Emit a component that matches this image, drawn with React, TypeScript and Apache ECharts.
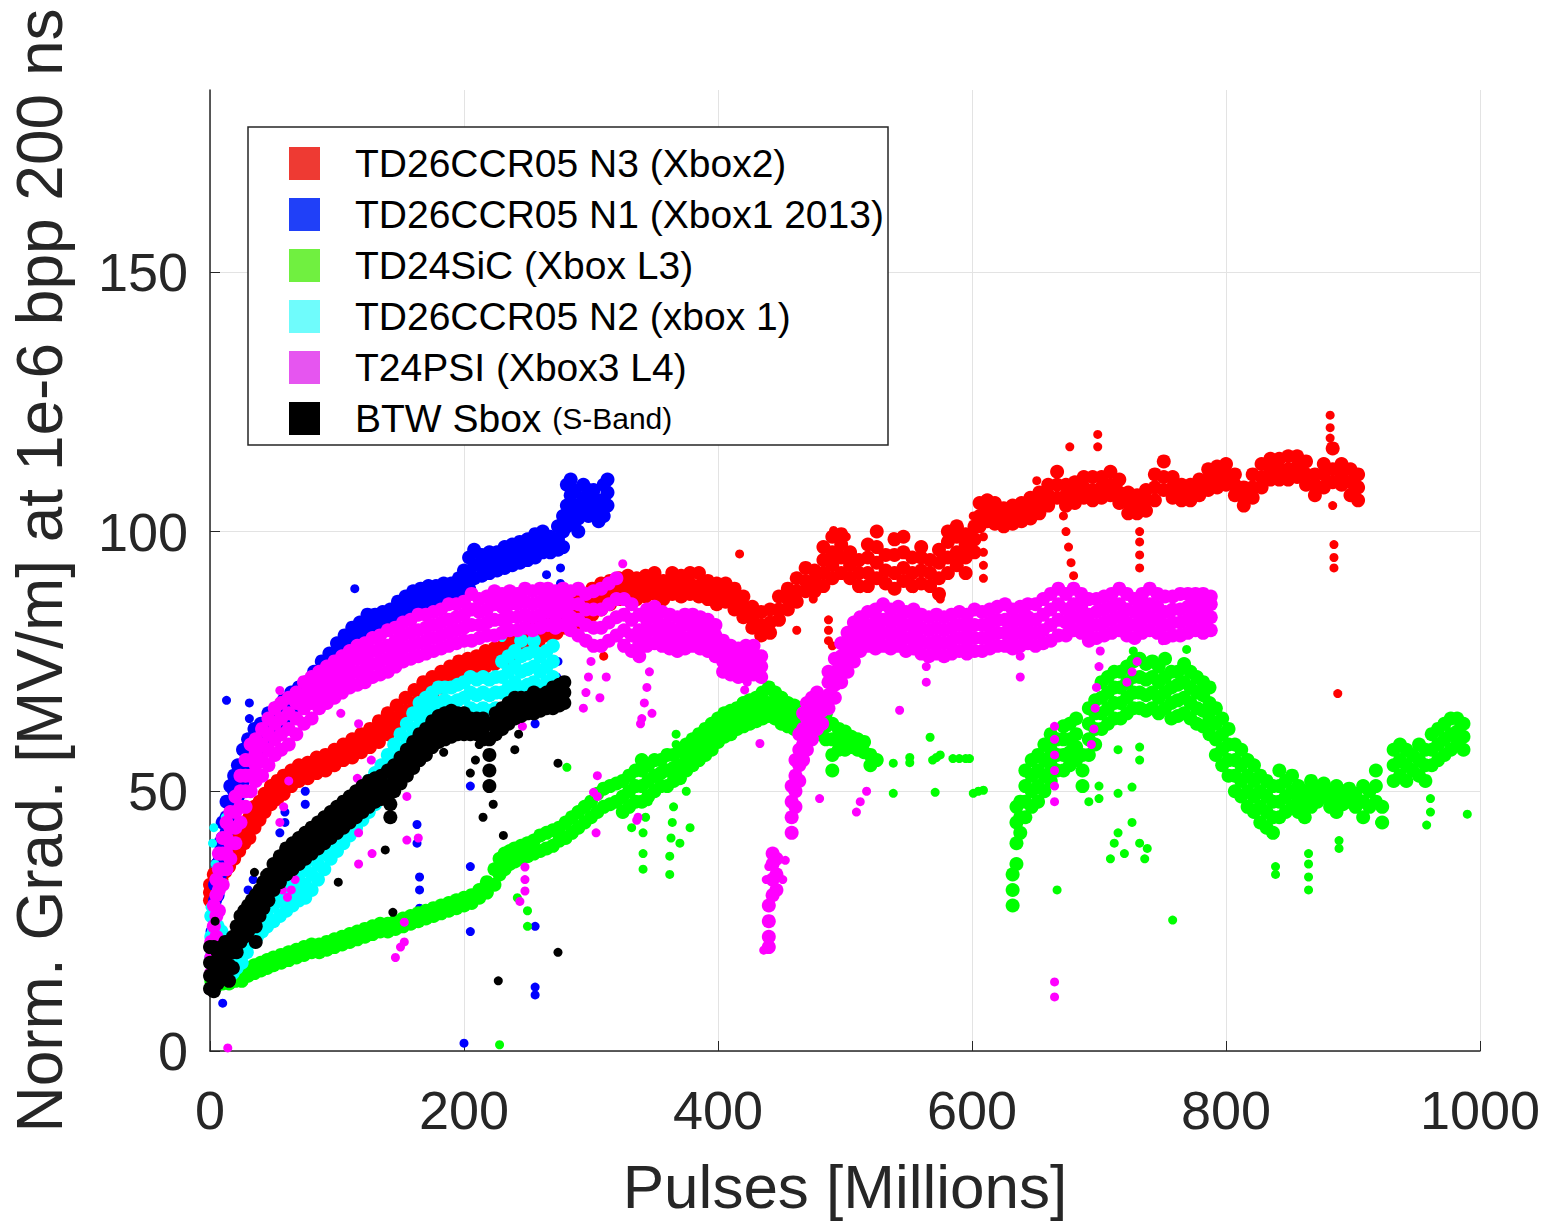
import React, { useEffect, useRef } from "react";
import * as echarts from "echarts";

const FONT = '"Liberation Sans", Arial, Helvetica, sans-serif';

const seriesNames = [
  "TD26CCR05 N3 (Xbox2)",
  "TD26CCR05 N1 (Xbox1 2013)",
  "TD24SiC (Xbox L3)",
  "TD26CCR05 N2 (xbox 1)",
  "T24PSI (Xbox3 L4)",
  "BTW Sbox (S-Band)",
];
const seriesColors = ["#FF0000", "#0000FF", "#00FF00", "#00FFFF", "#FF00FF", "#000000"];
const legendColors = ["#EE3A33", "#2040F8", "#70F040", "#6FFCFC", "#E655F0", "#000000"];

const xTicks = [0, 200, 400, 600, 800, 1000];
const yTicks = [0, 50, 100, 150];
const yMax = 185;

// each row: [pulses, gradient readings at that pulse count...]
const redBand = [
  [0, 29, 30.5, 32], [3, 30, 32, 34], [6, 32, 34, 36], [9, 33, 35, 37], [12, 34.5, 36.5, 38],
  [15, 35.5, 37.5, 39.5], [19, 37, 39, 41], [23, 38.5, 40.5, 42.5], [27, 40, 42, 44], [31, 41, 43, 45],
  [35, 43, 45, 47], [39, 44.5, 46.5, 48], [43, 46, 48, 49.5], [48, 47.5, 49.5, 51], [53, 48.5, 50.5, 52],
  [58, 49.5, 51.5, 53], [64, 51, 52.5, 54], [70, 52, 53.5, 55], [77, 52.5, 54, 55.5], [84, 53.5, 55, 56.5],
  [91, 54, 55.5, 57], [98, 55, 56.5, 58], [105, 56, 57.5, 59], [112, 56.5, 58.5, 60], [119, 57.5, 59.5, 61],
  [126, 58.5, 60.5, 62], [133, 59.5, 61.5, 63.5], [140, 61, 63, 65], [147, 62, 64, 66.5], [154, 63.5, 65.5, 68],
  [161, 65, 67, 69.5], [168, 67, 69, 71], [175, 68.5, 70.5, 72], [182, 70, 71.5, 73], [189, 71, 72.5, 74],
  [196, 72, 73.5, 75], [203, 72.5, 74, 75.5], [210, 73, 74.5, 76], [217, 74, 75.5, 77], [224, 74.5, 76, 77.5],
  [231, 75, 76.5, 78], [238, 76, 77.5, 79], [245, 77, 78.5, 80], [252, 78, 79.5, 81.5], [259, 79, 80.5, 82.5],
  [266, 80, 81.5, 83], [273, 80.5, 82.5, 84], [280, 81.5, 83.5, 85.5], [287, 82, 84, 86.5], [294, 83, 85.5, 88],
  [301, 84, 86.5, 89], [308, 85, 87.5, 90], [315, 86, 88, 90.5], [322, 87, 89, 91], [329, 87.5, 89.5, 91.5],
  [336, 87, 89, 91], [343, 87.5, 89.5, 91.5], [350, 88, 90, 92], [357, 87, 89, 90.5], [364, 88, 90, 92],
  [371, 87.5, 89.5, 91.5], [378, 88, 90, 92], [385, 87.5, 89.5, 92], [392, 87, 88.5, 90.5], [399, 86, 88, 90],
  [406, 86.5, 88, 90], [413, 85, 87, 89], [420, 83.5, 85.5, 87.5], [427, 81.5, 83.5, 85.5], [434, 80, 82, 84.5],
  [441, 80.5, 82.5, 85], [448, 83, 85, 87.5], [455, 85, 87, 89], [462, 86.5, 88.5, 91], [469, 88.5, 90.5, 93],
  [476, 88.5, 90.5, 92.5], [483, 89.5, 92, 94.5, 97], [490, 91, 93.5, 96, 99], [497, 92, 95, 97.5, 99.5],
  [504, 91, 93.5, 96], [511, 89.5, 92, 94.5], [518, 89.5, 92, 95, 97.5], [525, 91, 94, 97, 100],
  [532, 90, 92.5, 95.5], [539, 89, 92, 95.5, 98.5], [546, 90.5, 93, 96, 99], [553, 89.5, 92, 95],
  [560, 90, 92.5, 95, 97], [567, 89.5, 92, 94.5], [574, 88, 91, 94, 96.5], [581, 92, 95, 98, 100],
  [588, 93.5, 96, 99, 101], [595, 92, 95, 97.5, 99.5], [602, 96, 98.5, 101], [606, 101, 103, 105.5],
  [612, 102, 104, 106], [618, 101.5, 103.5, 105.5], [625, 101, 103, 104.5], [632, 101.5, 103.5, 105], [639, 102, 104, 105.5],
  [646, 102.5, 104.5, 106.5], [653, 103.5, 105.5, 107.5], [660, 105, 107, 109], [667, 106.5, 109, 111.5], [674, 105, 107, 109],
  [681, 105.5, 107.5, 109.5], [688, 106.5, 108.5, 110.5], [695, 106, 108, 110.5], [702, 106.5, 108.5, 110.5], [709, 107, 109, 111.5],
  [716, 105.5, 107.5, 110], [723, 103.5, 105.5, 107.5], [730, 103.5, 105.5, 107], [737, 104, 106, 108], [744, 106, 108.5, 111],
  [751, 108, 110.5, 113.5], [758, 106.5, 108.5, 110.5], [765, 106, 107.5, 109], [772, 106, 107.5, 109], [779, 107, 108.5, 110],
  [786, 108, 110, 112], [793, 108.5, 110.5, 112.5], [800, 109, 111, 113], [807, 107, 109, 111], [814, 105, 106.5, 108.5],
  [821, 106.5, 108.5, 111], [828, 108.5, 110.5, 113], [835, 110, 112, 114], [842, 110, 112, 114], [849, 110, 112, 114.5],
  [856, 110.5, 112.5, 114.5], [863, 109, 111, 113.5], [870, 107, 109, 111], [877, 108.5, 111, 113], [884, 109.5, 112, 116],
  [891, 109, 111, 113], [898, 107, 109.5, 112], [904, 106, 108.5, 111],
];
const redScatter = [
  [310, 76], [310, 78], [417, 95.7], [462, 81], [487, 79], [487, 81], [487, 83], [490, 78], [475, 87], [575, 87],
  [491, 100.2], [501, 99], [525, 100], [538, 99], [559, 97], [580, 100], [590, 100.8], [601, 103], [512, 89], [554, 89],
  [609, 91], [609, 93.5], [609, 96], [609, 99], [651, 109.8], [672, 103], [674, 100], [676, 97], [678, 94], [680, 91.5],
  [677, 116.3], [699, 116.3], [699, 118.7], [732, 93], [732, 95.5], [732, 98], [732, 100], [882, 122.4], [882, 118],
  [882, 120], [884, 105], [885, 93], [885, 95], [885, 97.5], [888, 68.8],
];

const blueBand = [
  [2, 20, 23, 26], [4, 26, 29, 32], [6, 30, 33, 36], [8, 34, 37, 40], [10, 38, 41, 44], [13, 42, 45, 48],
  [16, 45, 48, 51], [19, 47, 50, 53], [22, 49, 52, 55], [26, 52, 55, 58], [30, 54, 57, 60], [35, 56, 59, 62],
  [40, 58, 61, 63], [46, 60, 62.5, 65], [52, 62, 64, 66], [58, 63.5, 65.5, 67.5], [64, 65, 67, 69], [70, 66.5, 68.5, 70],
  [76, 67.5, 69.5, 71], [82, 69.5, 71.5, 73], [88, 71, 73, 75], [94, 73, 75, 76.5], [100, 74.5, 76.5, 78.5],
  [106, 76, 78, 80], [112, 77.5, 79.5, 81.5], [118, 79, 81, 82.5], [124, 80, 82, 84], [130, 80.5, 82.5, 84],
  [136, 81, 83, 84.5], [142, 81.5, 83, 85], [148, 82.5, 84.5, 86.5], [154, 84, 86, 87.5], [160, 85, 87, 88.5],
  [166, 85.5, 87.5, 89], [172, 85.5, 87.5, 89.5], [178, 86, 88, 89.5], [184, 86, 88, 90], [190, 86.5, 88.5, 90],
  [196, 87, 89, 91], [200, 88, 90.5, 92.5], [204, 89, 92, 95], [208, 91, 93.5, 96.5], [214, 91.5, 93.5, 95.5],
  [220, 92, 94, 96], [226, 92.5, 94.5, 96], [232, 93, 95, 97], [238, 93.5, 95.5, 97.5], [244, 94, 96, 98],
  [250, 94.5, 96.5, 98.5], [256, 95, 97, 99.5], [262, 96, 98, 100], [268, 96, 97.5, 99], [274, 96.5, 98.5, 101],
  [278, 97, 100, 103], [281, 101, 105, 109], [284, 104, 107, 110], [287, 102, 105, 108], [290, 100, 102.5, 105],
  [294, 104, 106.5, 109], [298, 103, 105.5, 108], [302, 104, 106, 108], [306, 102, 104, 106], [310, 103, 106, 109],
  [313, 105, 107.5, 110],
];
const blueScatter = [
  [10, 9.2], [13, 67.5], [31, 64], [31, 67], [114, 89], [200, 1.5], [165, 31], [165, 33.5], [165, 27.5], [163, 40],
  [163, 43.6], [205, 35.5], [205, 30], [205, 23], [205, 51], [256, 10.8], [256, 12.3], [256, 24], [256, 63], [75, 47.5],
  [75, 50], [59, 44], [59, 46], [55, 42], [273, 69], [273, 72], [274, 75], [276, 90], [276, 93], [265, 91.7],
  [5, 15], [6, 18], [3, 12], [30, 31], [34, 33],
];

const greenBand = [
  [1, 12, 13.5], [5, 12.5, 14], [10, 13, 14.5], [15, 13, 14.5], [20, 13.5, 15], [25, 13.5, 15.5], [30, 14.5, 16],
  [35, 15, 16.5], [40, 15.5, 17], [45, 16, 17.5], [50, 16.5, 18], [56, 17, 18.5], [62, 17.5, 19], [68, 18, 19.5],
  [74, 18.5, 20], [80, 19, 20.5], [86, 19, 20.5], [92, 19.5, 21], [98, 20, 21.5], [104, 20.5, 22], [110, 21, 22.5],
  [116, 21.5, 23], [122, 22, 23.5], [128, 22.5, 24], [134, 23, 24.5], [140, 23, 24.5], [146, 23.5, 25], [152, 24, 25.5],
  [158, 24.5, 26], [164, 25, 26.5], [170, 25.5, 27], [176, 26, 27.5], [182, 26.5, 28], [188, 27, 28.5], [194, 27.5, 29],
  [200, 28, 29.5], [206, 28.5, 30], [212, 29.5, 31], [218, 30.5, 32.5], [224, 32, 35], [228, 34, 37], [232, 35, 38],
  [236, 36, 38.5], [240, 36.5, 39], [245, 37, 39.5], [250, 37.5, 40], [255, 38, 40.5], [260, 38.5, 41.5], [265, 39, 42],
  [270, 39.5, 42.5], [275, 40.5, 43], [280, 41, 44], [285, 42, 45], [290, 43, 46], [295, 44, 47], [300, 45, 48],
  [305, 46, 49.5], [310, 47, 50.5], [315, 47.5, 51], [320, 48, 51.5],
  [325, 46, 49, 52], [330, 47, 50, 53], [335, 48, 51, 54], [340, 48, 51, 54, 56], [345, 49, 52, 55], [350, 50, 53, 56],
  [355, 51, 53.5, 56], [360, 51, 54, 57], [365, 52, 54.5, 57], [370, 52.5, 55, 58], [375, 54, 56.5, 59], [380, 55, 57.5, 60],
  [385, 56, 58.5, 61], [390, 57, 59.5, 62], [395, 58, 60.5, 63], [400, 59.5, 61.5, 64], [405, 60.5, 62.5, 65], [410, 61, 63, 65.5],
  [415, 62, 64, 66], [420, 62.5, 64.5, 67], [425, 63, 65, 67.5], [430, 63.5, 65.5, 68], [435, 64, 66.5, 69], [440, 64.5, 67, 70],
  [445, 64, 66.5, 69], [450, 63, 65.5, 68], [455, 62.5, 64.5, 67], [460, 62, 64, 66.5], [465, 61.5, 63.5, 66], [470, 61, 63, 65.5],
  [475, 61.5, 63.5, 66], [480, 61, 63, 65.5], [485, 60, 62.5, 65], [490, 54, 57, 60, 63], [495, 58, 60, 62], [500, 58, 60, 61.5],
  [505, 58.5, 60.5], [510, 58, 60], [515, 57.5, 59.5], [520, 55, 57], [525, 56],
  [632, 28, 31, 34], [635, 36, 40, 44, 47], [638, 42, 45, 48], [642, 45, 48, 51, 54], [647, 47, 50, 53, 56],
  [652, 48, 51, 54, 57], [657, 50, 53, 56, 59], [662, 52, 55, 58, 61], [667, 54, 57, 60], [672, 54, 57, 60, 62.5],
  [677, 55, 57.5, 60, 63], [682, 56, 58.5, 61, 64], [687, 51, 54, 57], [692, 57, 60, 63, 66], [697, 59, 62, 65, 67.5],
  [702, 62, 65, 68, 71], [707, 63, 66, 69, 72], [712, 64, 67, 70, 73], [717, 64, 67, 70, 73], [722, 65, 68, 71, 74],
  [727, 66, 69, 72, 75], [732, 66, 69, 72, 75.5], [737, 65.5, 68.5, 71.5, 74.5], [742, 66, 69, 72, 75], [747, 65, 68, 71, 74],
  [752, 66, 69, 72, 75.5], [757, 64, 67, 70, 73], [762, 64.5, 67.5, 70.5, 73], [767, 65, 68, 71, 74.5], [772, 64, 67, 70, 73],
  [777, 63, 66, 69, 72], [782, 62.5, 65.5, 68.5, 71], [787, 61, 64, 67, 70], [792, 57, 60, 63, 66], [797, 55, 58, 61, 64],
  [802, 53, 56, 59, 62], [807, 50, 53, 56, 59], [812, 49, 52, 55, 58], [817, 47, 50, 53, 56], [822, 46, 49, 52, 55],
  [827, 44, 47, 50, 53], [832, 43, 46, 49, 52], [837, 42, 45, 48, 51], [842, 45, 48, 51, 54], [847, 46, 49, 52],
  [852, 47, 50, 53], [857, 46, 48.5, 51], [862, 45, 47.5, 50], [867, 47, 49.5, 52], [872, 48, 50.5], [877, 49, 51.5],
  [882, 47, 49.5], [887, 46, 48.5, 51], [892, 47.5, 50], [897, 48, 50.5], [902, 47, 49.5], [908, 45, 48, 51],
  [913, 47, 50], [918, 48, 51, 54], [923, 44, 47], [932, 52, 55, 58], [937, 53, 56, 59], [942, 52, 55, 58],
  [947, 54, 57], [952, 53, 56, 59], [957, 52, 55, 58], [962, 55, 58, 61], [967, 56, 59, 62], [972, 57, 60, 63],
  [977, 58, 61, 64], [982, 59, 61.5, 64], [987, 58, 60.5, 63],
];
const greenScatter = [
  [228, 1.2], [281, 54.6], [250, 24], [250, 27], [242, 29.5], [341, 35], [341, 38], [341, 42], [343, 45], [345, 48],
  [362, 34], [362, 37.5], [363, 41], [364, 44], [365, 47], [378, 43], [370, 40], [367, 59], [367, 61], [375, 50],
  [332, 43], [538, 55.4], [551, 55.5], [551, 56.5], [567, 60.4], [569, 56], [572, 56.5], [575, 57], [585, 56.3],
  [590, 56.3], [595, 56.3], [598, 56.3], [538, 49.6], [571, 49.8], [601, 49.6], [605, 50], [609, 50.2],
  [990, 45.6], [958, 43.5], [839, 34], [839, 35.5], [865, 31], [865, 33.5], [865, 36], [865, 38], [889, 39], [889, 40.5],
  [961, 46], [961, 48.6], [758, 25.2], [667, 31], [709, 37], [712, 40], [715, 42], [720, 38], [726, 44], [732, 40],
  [736, 37], [738, 39], [715, 49.6], [726, 50.8], [732, 56], [732, 58.5], [715, 58], [921, 44], [700, 48.6], [700, 51],
  [692, 48], [727, 77], [769, 77.3],
];

const cyanBand = [
  [1, 18, 22, 26], [3, 15, 19, 23], [6, 14, 17, 20, 24], [9, 14, 17, 20, 23], [12, 14, 17, 20], [15, 14.5, 17.5, 20.5],
  [18, 15, 18, 21], [21, 16, 19, 22], [25, 17, 20, 23], [29, 19, 22, 25], [33, 21, 24, 27], [37, 22, 25, 28],
  [41, 23, 26, 29], [45, 24, 27, 30], [50, 25, 28, 31], [55, 26, 29, 31.5], [60, 27, 29.5, 32], [65, 28, 30.5, 33],
  [70, 29, 31.5, 34], [75, 29.5, 32, 35], [80, 31, 34, 37], [85, 33, 36, 39], [90, 35, 38, 41], [95, 37, 40, 43],
  [100, 38.5, 41.5, 44.5], [105, 40, 43, 46], [110, 41.5, 44.5, 47.5], [115, 43, 46, 49], [120, 44.5, 47.5, 50.5],
  [125, 46, 49, 52], [130, 47.5, 50.5, 53.5], [135, 49, 52, 55], [140, 51, 54, 57], [145, 53, 56, 59], [150, 55, 58, 61],
  [155, 57, 60, 63], [160, 59, 62, 65], [165, 61, 64, 67], [170, 63, 65.5, 68], [175, 64, 66.5, 69], [180, 64.5, 67, 70],
  [185, 65, 67.5, 70], [190, 64.5, 67, 70], [195, 65, 67.5, 70.5], [200, 65, 68, 71], [205, 66, 69, 72],
  [210, 65.5, 68.5, 71.5], [215, 66, 69, 72], [220, 65.5, 68.5, 71.5], [225, 66, 69, 72], [230, 69, 72, 75],
  [235, 70, 73, 76], [240, 71, 74, 77], [245, 70, 73, 76, 79], [250, 70.5, 73.5, 76.5], [255, 71, 74, 77, 79],
  [260, 70, 73, 76], [265, 71, 74, 77], [270, 72, 75, 78],
];
const cyanScatter = [[2, 40], [3, 43], [12, 45], [4, 36], [0, 27.7], [230, 79.6]];

const magentaBand = [
  [1, 12, 15, 18, 21], [3, 16, 20, 24, 28], [5, 22, 26, 30, 33], [7, 27, 31, 35, 38], [10, 32, 35, 38, 41],
  [13, 35, 38, 41, 44], [16, 37, 40, 43, 46], [20, 40, 43, 46, 49], [24, 44, 47, 50, 53], [28, 47, 50, 53, 56],
  [32, 50, 53, 56, 59], [36, 52, 55, 57.5, 60], [41, 53, 56, 59, 62], [46, 55, 58, 61, 64], [51, 57, 60, 63, 66],
  [56, 58, 61, 64, 67], [62, 59, 62, 65, 68], [68, 61, 64, 67, 69], [74, 63, 66, 68.5, 71], [80, 64, 67, 69.5, 72],
  [86, 66, 68.5, 71, 73], [92, 67, 69.5, 72, 74], [98, 68, 70.5, 73, 75], [104, 69, 71.5, 74, 76], [110, 70, 72.5, 75, 77],
  [116, 70.5, 73, 75.5, 78], [122, 71, 73.5, 76, 78.5], [128, 72, 74.5, 77, 79.5], [134, 72.5, 75, 77.5, 80],
  [140, 73, 75.5, 78, 81], [146, 74, 76.5, 79, 81.5], [152, 75, 77.5, 80, 82.5], [158, 75.5, 78, 80.5, 83],
  [164, 76, 78.5, 81, 84], [170, 76.5, 79, 81.5, 84], [176, 77, 79.5, 82, 84.5], [182, 77.5, 80, 82.5, 85],
  [188, 78, 80.5, 83, 86], [194, 78.5, 81, 83.5, 86], [200, 79, 81.5, 84, 86.5], [206, 79, 82, 85, 88],
  [212, 79.5, 82, 84.5, 87], [218, 80, 82.5, 85, 87.5], [224, 80, 83, 86, 88.5], [230, 80.5, 83, 85.5, 88],
  [236, 81, 83.5, 86, 88.5], [242, 81, 83.5, 86, 88], [248, 81.5, 84, 86.5, 89], [254, 81, 83.5, 86, 88.5],
  [260, 81.5, 84, 86.5, 89], [266, 82, 84.5, 87, 89], [272, 81.5, 84, 86.5, 88.5], [278, 82, 84.5, 87, 89],
  [284, 81, 83.5, 86, 88.5], [290, 80, 83, 86, 89], [296, 79, 82, 85, 88], [302, 78, 81.5, 85, 88.5],
  [308, 78, 81.5, 85, 89], [314, 79, 82.5, 86, 90], [320, 80, 83.5, 87, 91], [326, 78, 81, 84, 87],
  [332, 77, 80, 83, 86], [338, 76, 78.5, 81, 84], [344, 78, 80.5, 83, 85], [350, 78.5, 81, 83.5, 85.5],
  [356, 78, 80, 82, 84.5], [362, 77.5, 79.5, 81.5, 84], [368, 77, 79, 81, 83.5], [374, 77.5, 79.5, 82, 84],
  [380, 78, 80, 82, 84], [386, 77.5, 79.5, 81.5, 83.5], [392, 77, 79, 81, 83], [398, 76, 78, 80, 82],
  [404, 73, 75, 77, 79], [410, 72.5, 74.5, 76.5, 78], [416, 72, 74, 76, 77.5], [422, 72, 74, 76, 78],
  [428, 72.5, 74.5, 76.5, 78], [434, 72, 74, 76],
  [440, 20, 22, 25, 28], [443, 30, 33, 36, 38], [446, 31, 34, 37], [458, 42, 45, 48, 51], [461, 47, 50, 53, 56],
  [464, 52, 55, 58, 61], [467, 56, 59, 62, 65], [470, 58, 61, 64, 67], [474, 60, 63, 66, 68], [478, 62, 64.5, 67, 69],
  [482, 63, 65.5, 68], [487, 66, 68.5, 71, 73], [492, 68, 70.5, 73, 75.5], [497, 71, 73.5, 76, 78.5],
  [502, 73, 75.5, 78, 80.5], [507, 75, 77.5, 80, 82.5], [512, 77, 79, 81, 83.5], [518, 78, 80, 82, 84.5],
  [524, 77.5, 80, 82.5, 85], [530, 78, 80.5, 83, 86], [536, 77.5, 80, 82.5, 85], [542, 78, 80.5, 83, 85.5],
  [548, 77, 79.5, 82, 84.5], [554, 77.5, 80, 82.5, 85], [560, 76.5, 79, 81.5, 84], [566, 76, 78.5, 81, 83.5],
  [572, 76.5, 79, 81.5, 84], [578, 76, 78.5, 81, 83.5], [584, 76.5, 79, 81.5, 84], [590, 77, 79.5, 82, 84.5],
  [596, 76.5, 79, 81.5, 84], [602, 77, 79.5, 82, 85], [608, 77, 79.5, 82, 84.5], [614, 77.5, 80, 82.5, 85],
  [620, 78, 80.5, 83, 85.5], [626, 78, 80.5, 83, 86], [632, 77.5, 80, 82.5, 85], [638, 78, 80.5, 83, 85.5],
  [644, 78.5, 81, 83.5, 86], [650, 78, 80.5, 83, 86], [656, 78.5, 81, 84, 87], [662, 79, 82, 85, 88],
  [668, 80, 83, 86, 89], [674, 80, 82.5, 85, 88], [680, 81, 83.5, 86, 89], [686, 80.5, 83, 85.5, 88],
  [692, 79, 81.5, 84, 87], [698, 79.5, 82, 84.5, 87], [704, 80, 82.5, 85, 87.5], [710, 80.5, 83, 85.5, 88],
  [716, 81, 83.5, 86, 89], [722, 80, 82.5, 85, 88], [728, 79.5, 82, 84.5, 87], [734, 80.5, 83, 85.5, 88],
  [740, 81, 83.5, 86, 89], [746, 80.5, 83, 85.5, 88], [752, 79.5, 82, 84.5, 87.5], [758, 80, 82.5, 85, 87.5],
  [764, 80, 82.5, 85, 88], [770, 80.5, 83, 85.5, 88], [776, 81, 83.5, 86, 88], [782, 80.5, 83, 85.5, 88],
  [788, 81, 83.5, 86, 87.5],
];
const magentaScatter = [
  [14, 0.6], [146, 18], [150, 20], [153, 21], [117, 36], [127.6, 38], [153, 24.8], [61, 29.6], [64, 31], [67, 33],
  [57, 31], [117, 42], [155, 49], [55, 44], [58, 47], [62, 52], [103, 65], [117, 63], [127, 56], [164, 41], [116, 52.5],
  [55, 69.4], [75, 67], [155, 40.6], [305, 53], [305, 49], [304, 42], [336, 44.4], [339, 63], [325, 93.8], [248, 35.4],
  [248, 30.8], [244, 28.8], [248, 33], [246, 62.5], [302, 49.8], [337, 45], [294, 66], [296, 69], [298, 72], [300, 75],
  [307, 68], [312, 72], [340, 64], [342, 67], [344, 70], [346, 73], [348, 65], [421, 69.5], [423, 71], [433, 59.2],
  [480, 48.6], [509, 46], [512, 48], [517, 50], [543, 65.6], [564, 71], [564, 74], [438, 33], [440, 35.5], [451, 33],
  [453, 36.7], [436, 19.4], [638, 72], [638, 76], [665, 48], [665, 51], [665, 54], [665, 57], [665, 60], [665, 62.5],
  [665, 10.4], [665, 13.3], [694, 59], [696, 62], [697, 66], [698, 70], [700, 74], [701, 77], [722, 71], [726, 73],
  [730, 75], [750, 79],
];

const blackBand = [
  [0, 12, 14.5, 17, 20], [3, 11.5, 14, 17, 20], [6, 13, 16, 19], [9, 14, 17, 20], [12, 15, 18, 21], [15, 13.5, 16.5, 19.5],
  [18, 16, 19, 22], [21, 19, 21.5, 24], [24, 21, 23.5, 26], [27, 22, 24.5, 27], [30, 23, 25.5, 28], [33, 24, 26.5, 29],
  [36, 21, 24, 27, 30], [39, 26, 28.5, 31], [42, 27.5, 30, 32.5], [46, 29, 31.5, 34], [50, 31, 33.5, 36], [55, 32.5, 35, 37.5],
  [60, 34, 36.5, 39], [65, 35, 37.5, 40], [70, 36, 38.5, 41], [75, 37, 39.5, 42], [80, 38, 40.5, 43], [85, 39, 41.5, 44],
  [90, 40, 42.5, 45], [95, 41, 43.5, 46], [100, 42, 44.5, 47], [105, 43, 45.5, 48], [110, 44, 46.5, 49], [115, 45, 47.5, 50],
  [120, 46, 48.5, 51], [125, 47, 49.5, 52], [130, 48, 50, 52.5], [135, 48.5, 50.5, 53], [140, 49, 51, 54], [142, 45, 47.5],
  [145, 50, 52.5, 55], [150, 51.5, 54, 56.5], [155, 53, 55.5, 58], [160, 54.5, 57, 59.5], [165, 56, 58.5, 61],
  [170, 57, 59.5, 62], [175, 58.5, 61, 63.5], [180, 59.5, 62, 64.5], [185, 60, 62.5, 65], [190, 60.5, 63, 65.5],
  [195, 61, 63, 65], [200, 61, 63, 65], [205, 61, 62.5, 64], [210, 61, 62.5, 64], [215, 60, 62, 64],
  [220, 51, 54, 57, 60, 63], [225, 61, 63, 65], [230, 62, 64, 66], [235, 63, 65, 67], [240, 64, 66, 68],
  [245, 64.5, 66.5, 68], [250, 65, 66.5, 68], [255, 65, 67, 69], [260, 65.5, 67, 68.5], [265, 66, 67.5, 69],
  [270, 66, 68, 70], [275, 66.5, 68.5, 70.5], [279, 67, 69, 71],
];
const blackScatter = [
  [215, 45], [223, 47.5], [231, 41.5], [274, 55.4], [274, 19], [227, 13.5], [184, 57.5], [172, 58], [35, 34.4],
  [43, 34], [101, 32.5], [138, 38.7], [144, 26.7], [4, 25], [205, 53.5], [209, 56], [212, 59], [240, 58], [243, 61],
];

const bands = [redBand, blueBand, greenBand, cyanBand, magentaBand, blackBand];
const scatters = [redScatter, blueScatter, greenScatter, cyanScatter, magentaScatter, blackScatter];

function rowsToPoints(rows: number[][]) {
  const pts: number[][] = [];
  rows.forEach((r) => {
    for (let i = 1; i < r.length; i++) pts.push([r[0], r[i]]);
  });
  return pts;
}

export default function App() {
  const ref = useRef<HTMLDivElement>(null);
  useEffect(() => {
    if (!ref.current) return;
    const chart = echarts.init(ref.current, undefined, { renderer: "svg" });
    const series: any[] = [];
    seriesNames.forEach((name, i) => {
      series.push({
        type: "scatter",
        name,
        data: rowsToPoints(bands[i]),
        symbol: "circle",
        symbolSize: 14,
        itemStyle: { color: seriesColors[i], opacity: 1 },
        emphasis: { disabled: true },
        z: 2 + i,
      });
      series.push({
        type: "scatter",
        name,
        data: scatters[i],
        symbol: "circle",
        symbolSize: 9,
        itemStyle: { color: seriesColors[i], opacity: 1 },
        emphasis: { disabled: true },
        z: 2 + i,
      });
    });
    const axisColor = "#262626";
    const gridColor = "#E3E3E3";
    chart.setOption({
      animation: false,
      backgroundColor: "#ffffff",
      textStyle: { fontFamily: FONT },
      grid: { left: 210, right: 68, top: 90, bottom: 174, containLabel: false },
      xAxis: {
        type: "value",
        min: xTicks[0],
        max: xTicks[xTicks.length - 1],
        interval: 200,
        name: "Pulses [Millions]",
        nameLocation: "middle",
        nameGap: 104,
        nameTextStyle: { fontSize: 62, color: axisColor, fontFamily: FONT },
        axisLine: { show: true, onZero: false, lineStyle: { color: axisColor, width: 1.5 } },
        axisTick: { show: true, inside: true, length: 10, lineStyle: { color: axisColor, width: 1 } },
        axisLabel: {
          fontSize: 54,
          color: axisColor,
          margin: 32,
          fontFamily: FONT,
          formatter: (v: number) => String(v),
        },
        splitLine: { show: true, lineStyle: { color: gridColor, width: 1 } },
      },
      yAxis: {
        type: "value",
        min: yTicks[0],
        max: yMax,
        interval: 50,
        name: "Norm. Grad. [MV/m] at 1e-6 bpp 200 ns",
        nameLocation: "middle",
        nameGap: 138,
        nameTextStyle: { fontSize: 64, color: axisColor, fontFamily: FONT },
        axisLine: { show: true, onZero: false, lineStyle: { color: axisColor, width: 1.5 } },
        axisTick: {
          show: true,
          inside: true,
          length: 10,
          customValues: yTicks,
          lineStyle: { color: axisColor, width: 1 },
        },
        axisLabel: {
          fontSize: 54,
          color: axisColor,
          margin: 22,
          fontFamily: FONT,
          customValues: yTicks,
        },
        splitLine: {
          show: true,
          lineStyle: { color: [gridColor, gridColor, gridColor, gridColor, "rgba(0,0,0,0)"], width: 1 },
        },
      },
      legend: {
        orient: "vertical",
        left: 289,
        top: 144,
        padding: 0,
        icon: "rect",
        itemWidth: 31,
        itemHeight: 33,
        itemGap: 12,
        z: 10,
        selectedMode: false,
        data: seriesNames.map((n, i) => ({ name: n, itemStyle: { color: legendColors[i] } })),
        formatter: (name: string) =>
          name === "BTW Sbox (S-Band)" ? "BTW Sbox {s|(S-Band)}" : name,
        textStyle: {
          fontSize: 39,
          color: "#000000",
          fontFamily: FONT,
          lineHeight: 33,
          padding: [0, 0, 0, 30],
          rich: { s: { fontSize: 30, color: "#000000", fontFamily: FONT, lineHeight: 33 } },
        },
      },
      graphic: [
        {
          type: "rect",
          z: 8,
          shape: { x: 248, y: 127, width: 640, height: 318 },
          style: { fill: "#ffffff", stroke: "#262626", lineWidth: 1.5 },
        },
      ],
      series,
    });
    return () => chart.dispose();
  }, []);
  return (
    <div
      ref={ref}
      style={{ position: "fixed", left: 0, top: 0, width: 1548, height: 1225, background: "#fff" }}
    />
  );
}
